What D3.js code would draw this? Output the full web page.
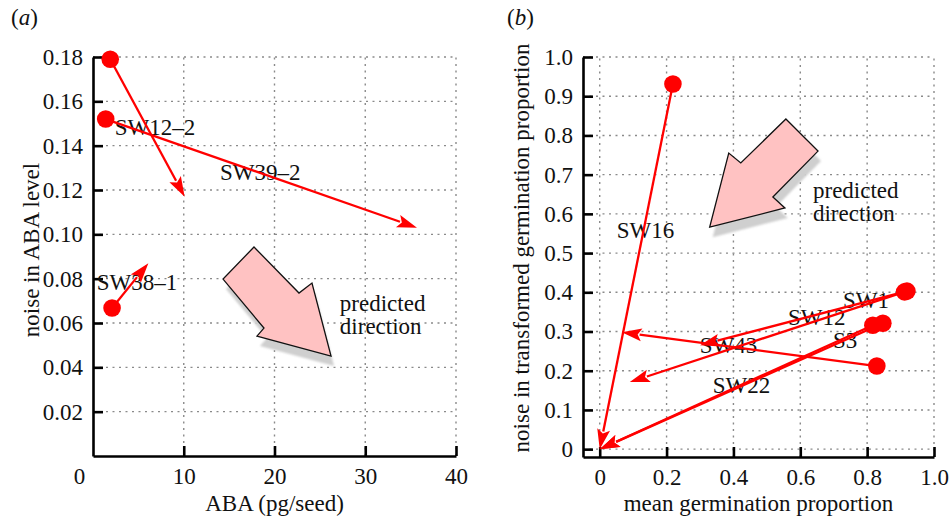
<!DOCTYPE html>
<html>
<head>
<meta charset="utf-8">
<script src="https://cdn.jsdelivr.net/npm/d3@7/dist/d3.min.js"></script>
<style>
  html, body { margin: 0; padding: 0; background: #fff; }
  svg { display: block; }
  text { font-family: "Liberation Serif", "Times New Roman", serif; fill: #111; }
</style>
</head>
<body>
<svg id="chart" width="950" height="520"></svg>
<script>
// ---------------- data ----------------
// Panel (a): ABA (pg/seed) vs noise in ABA level
const aNames  = ["SW12–2", "SW39–2", "SW38–1"];
const aStartX = [1.9, 1.4, 2.1];
const aStartY = [0.179, 0.152, 0.0668];
const aEndX   = [10.1, 35.7, 6.1];
const aEndY   = [0.117, 0.103, 0.087];
const aLabelX = [2.4, 14.0, 0.4];      // label anchor (data units, left edge)
const aLabelY = [0.1484, 0.1281, 0.0785];
const aXTicks = [0, 10, 20, 30, 40];
const aYTicks = [0.02, 0.04, 0.06, 0.08, 0.10, 0.12, 0.14, 0.16, 0.18];
const aArrowX = [17.74, 22.70, 24.13, 26.23, 18.07, 18.84, 14.33];
const aArrowY = [0.0943, 0.0735, 0.0780, 0.0451, 0.0541, 0.0577, 0.0798];
const aNoteX = 27.2, aNoteY = [0.069, 0.0586];

// Panel (b): mean germination proportion vs noise in transformed germination proportion
const bNames  = ["SW16", "S3", "SW22", "SW1", "SW12", "SW43"];
const bStartX = [0.219, 0.817, 0.847, 0.919, 0.912, 0.829];
const bStartY = [0.931, 0.316, 0.321, 0.403, 0.401, 0.212];
const bEndX   = [0.0, 0.0, 0.0, 0.30, 0.09, 0.066];
const bEndY   = [0.0, 0.0, 0.0, 0.265, 0.171, 0.298];
const bLabelX = [0.051, 0.698, 0.338, 0.728, 0.563, 0.299];
const bLabelY = [0.559, 0.278, 0.163, 0.380, 0.337, 0.265];
const bXTicks = [0, 0.2, 0.4, 0.6, 0.8, 1.0];
const bYTicks = [0, 0.1, 0.2, 0.3, 0.4, 0.5, 0.6, 0.7, 0.8, 0.9, 1.0];
const bArrowX = [0.557, 0.653, 0.518, 0.554, 0.329, 0.386, 0.422];
const bArrowY = [0.842, 0.760, 0.643, 0.615, 0.566, 0.755, 0.730];
const bNoteX = 0.638, bNoteY = [0.661, 0.602];

const noteLines = ["predicted", "direction"];

// ---------------- drawing ----------------
const svg = d3.select("#chart");
svg.append("rect").attr("width", 950).attr("height", 520).attr("fill", "#fff");
const FS = 23;
const RED = "#ff0000";

const defs = svg.append("defs");
defs.append("filter").attr("id", "soft")
  .append("feGaussianBlur").attr("stdDeviation", 0.8);

function panel(cfg) {
  const g = svg.append("g");
  const x = cfg.x, y = cfg.y;
  const [x0, x1] = x.range();
  const [y0, y1] = y.range(); // y0 bottom, y1 top

  // grid
  const grid = g.append("g").attr("stroke", "#8a8a8a").attr("stroke-width", 1.4)
    .attr("stroke-dasharray", "2,4.5");
  cfg.gridY.forEach(v => grid.append("line")
    .attr("x1", x0).attr("x2", x1).attr("y1", y(v)).attr("y2", y(v)));
  cfg.gridX.forEach(v => grid.append("line")
    .attr("x1", x(v)).attr("x2", x(v)).attr("y1", y0).attr("y2", y1));

  // axes
  const ax = g.append("g").attr("transform", `translate(0,${y0})`)
    .call(d3.axisBottom(x).tickValues(cfg.xTicks).tickFormat(cfg.xFmt)
      .tickSize(-10).tickSizeOuter(0).tickPadding(cfg.xPad));
  const ay = g.append("g").attr("transform", `translate(${x0},0)`)
    .call(d3.axisLeft(y).tickValues(cfg.yTicks).tickFormat(cfg.yFmt)
      .tickSize(-10).tickSizeOuter(0).tickPadding(10));
  [ax, ay].forEach(a => {
    a.selectAll("path.domain").attr("stroke", "#000").attr("stroke-width", 2.6);
    a.selectAll(".tick line").attr("stroke", "#000").attr("stroke-width", 2.6);
    a.selectAll(".tick text").attr("font-size", FS).attr("fill", "#111")
      .style("font-family", '"Liberation Serif", "Times New Roman", serif');
  });
  if (cfg.afterAxes) cfg.afterAxes(ax, ay);

  // predicted-direction big arrow (shadow + body)
  const pts = cfg.bigX.map((v, i) => [x(v), y(cfg.bigY[i])]);
  const line = d3.line().curve(d3.curveLinearClosed);
  g.append("path").attr("d", line(pts)).attr("fill", "#cfcfcf")
    .attr("transform", "translate(3,10)").attr("filter", "url(#soft)");
  g.append("path").attr("d", line(pts)).attr("fill", "#ffc2c2")
    .attr("stroke", "#111").attr("stroke-width", 1.3).attr("stroke-linejoin", "miter");
  const note = g.append("text").attr("font-size", FS);
  noteLines.forEach((t, i) => note.append("tspan")
    .attr("x", x(cfg.noteX)).attr("y", y(cfg.noteY[i])).attr("dy", "0.35em").text(t));

  // labels (under red marks, as in the original the red overlaps the text)
  cfg.names.forEach((n, i) => g.append("text").attr("font-size", FS)
    .attr("x", x(cfg.lx[i])).attr("y", y(cfg.ly[i])).attr("dy", "0.35em").text(n));

  // arrows
  const HL = 20, HW = 6.5;
  cfg.names.forEach((n, i) => {
    const sx = x(cfg.sx[i]), sy = y(cfg.sy[i]);
    const ex = x(cfg.ex[i]), ey = y(cfg.ey[i]);
    const dx = ex - sx, dy = ey - sy, L = Math.hypot(dx, dy);
    const ux = dx / L, uy = dy / L;
    const bx = ex - ux * HL, by = ey - uy * HL;
    g.append("line").attr("x1", sx).attr("y1", sy).attr("x2", bx + ux * 2).attr("y2", by + uy * 2)
      .attr("stroke", RED).attr("stroke-width", 2.3);
    g.append("path").attr("fill", RED).attr("d", d3.line()([
      [ex, ey], [bx - uy * HW, by + ux * HW], [bx + ux * 4, by + uy * 4], [bx + uy * HW, by - ux * HW]
    ]) + "Z");
  });
  // start dots
  cfg.names.forEach((n, i) => g.append("circle")
    .attr("cx", x(cfg.sx[i])).attr("cy", y(cfg.sy[i])).attr("r", 8.8).attr("fill", RED));

  // axis titles
  g.append("text").attr("font-size", FS).attr("text-anchor", "middle")
    .attr("x", (x0 + x1) / 2 + cfg.xtDx).attr("y", cfg.xtY).text(cfg.xTitle);
  g.append("text").attr("font-size", FS).attr("text-anchor", "middle")
    .attr("transform", `translate(${cfg.ytX},${cfg.ytY}) rotate(-90)`)
    .attr("dy", "0.35em").text(cfg.yTitle);

  // panel letter
  const pl = g.append("text").attr("font-size", FS).attr("x", cfg.plX).attr("y", 25);
  pl.append("tspan").text("(");
  pl.append("tspan").attr("font-style", "italic").text(cfg.letter);
  pl.append("tspan").text(")");
}

const xa = d3.scaleLinear().domain([0, 40]).range([93, 456]);
const ya = d3.scaleLinear().domain([0, 0.18]).range([456, 57]);
panel({
  x: xa, y: ya, xTicks: aXTicks, yTicks: aYTicks,
  gridX: aXTicks.filter(v => v > 0), gridY: aYTicks,
  xFmt: d => d3.format("d")(d), yFmt: d3.format(".2f"), xPad: 12,
  afterAxes: (ax) => {
    ax.selectAll(".tick").filter(d => d === 0).select("text").attr("x", -14);
    ax.selectAll(".tick").filter(d => d === 0).select("line").remove();
  },
  bigX: aArrowX, bigY: aArrowY, noteX: aNoteX, noteY: aNoteY,
  names: aNames, sx: aStartX, sy: aStartY, ex: aEndX, ey: aEndY, lx: aLabelX, ly: aLabelY,
  xTitle: "ABA (pg/seed)", xtDx: 0, xtY: 511,
  yTitle: "noise in ABA level", ytX: 31, ytY: 250,
  letter: "a", plX: 11
});

const xb = d3.scaleLinear().domain([-0.05, 1.0]).range([583, 934]);
const yb = d3.scaleLinear().domain([-0.02, 1.0]).range([457, 57]);
panel({
  x: xb, y: yb, xTicks: bXTicks, yTicks: bYTicks,
  gridX: bXTicks, gridY: bYTicks,
  xFmt: d => d === 0 ? "0" : d3.format(".1f")(d),
  yFmt: d => d === 0 ? "0" : d3.format(".1f")(d), xPad: 11.5,
  bigX: bArrowX, bigY: bArrowY, noteX: bNoteX, noteY: bNoteY,
  names: bNames, sx: bStartX, sy: bStartY, ex: bEndX, ey: bEndY, lx: bLabelX, ly: bLabelY,
  xTitle: "mean germination proportion", xtDx: 0, xtY: 511,
  yTitle: "noise in transformed germination proportion", ytX: 521, ytY: 248,
  letter: "b", plX: 507
});
</script>
</body>
</html>
